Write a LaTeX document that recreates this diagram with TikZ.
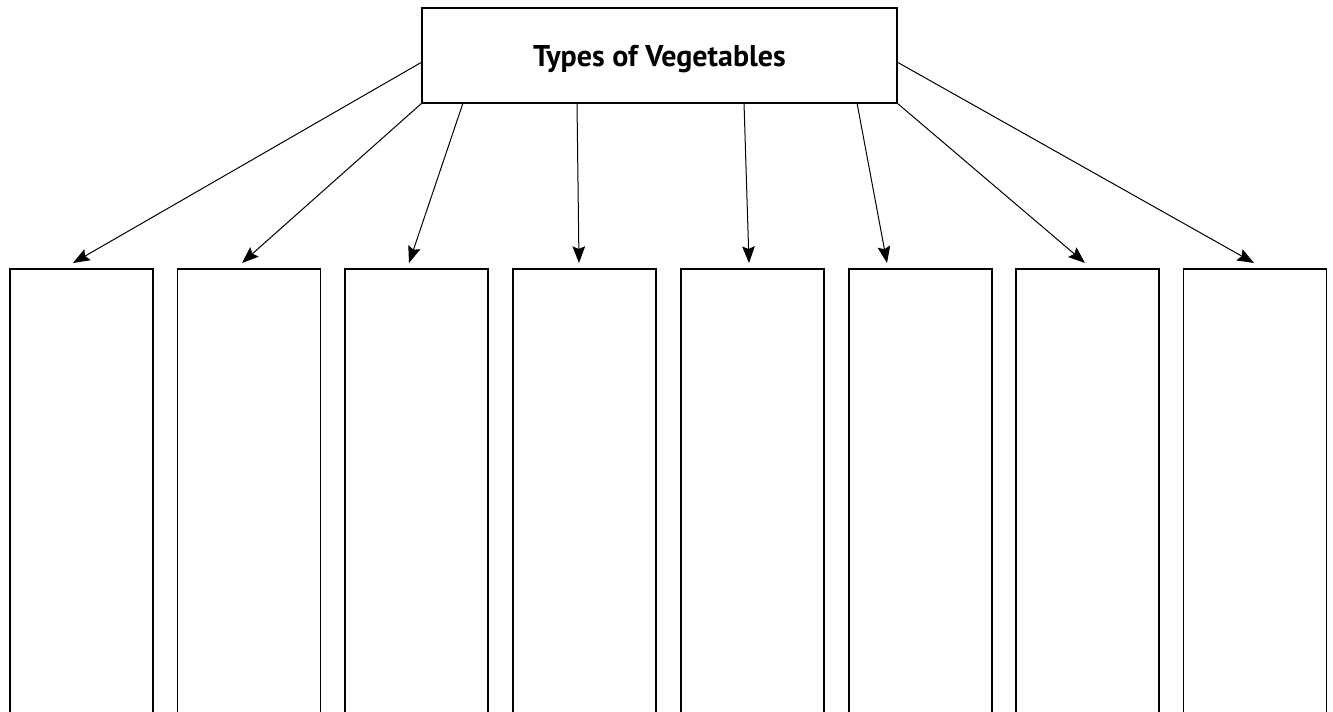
\documentclass[tikz,border=0pt]{standalone}
\usepackage{fontspec}
\setmainfont{PT Sans}
\usetikzlibrary{arrows.meta,calc}

\begin{document}
\begin{tikzpicture}[x = 0.75pt, y = -0.75pt,
    headbox/.style = {draw, line width = 1pt, inner sep = 0pt, outer sep = 0pt,
        minimum width = 356.25pt, minimum height = 71.25pt, text depth = 0pt,
        font = \bfseries\fontsize{22.5}{27}\selectfont},
    colbox/.style = {draw, line width = 1pt, inner sep = 0pt, outer sep = 0pt,
        minimum width = 107.25pt, minimum height = 345pt},
    arr/.style = {line width = 0.75pt, -{Stealth[length = 12.5pt, width = 9.5pt, inset = 2pt]}}]
    \useasboundingbox (0,0) rectangle (1333,712);
    \clip (0,0) rectangle (1333,712);
    
    \node [headbox] (veg) at (659.5,55.5) {Types of Vegetables};
    
    \node [colbox] (col1) at (81.5,499) {};
    \node [colbox] (col2) at (249,499) {};
    \node [colbox] (col3) at (416.5,499) {};
    \node [colbox] (col4) at (584.5,499) {};
    \node [colbox] (col5) at (752.5,499) {};
    \node [colbox] (col6) at (920.5,499) {};
    \node [colbox] (col7) at (1087.5,499) {};
    \node [colbox] (col8) at (1255,499) {};
    
    \draw [arr] ($(veg.west)+(0,6.5)$) -- ($(col1.north)+(-8.5,-6)$);
    \draw [arr] (veg.south west) -- ($(col2.north)+(-7,-6)$);
    \draw [arr] ($(veg.south west)+(41,0)$) -- ($(col3.north)+(-7.5,-6)$);
    \draw [arr] ($(veg.south west)+(155,0)$) -- ($(col4.north)+(-5.5,-6)$);
    \draw [arr] ($(veg.south west)+(322,0)$) -- ($(col5.north)+(-3.5,-6)$);
    \draw [arr] ($(veg.south west)+(435,0)$) -- ($(col6.north)+(-33.5,-6)$);
    \draw [arr] (veg.south east) -- ($(col7.north)+(-2.5,-6)$);
    \draw [arr] ($(veg.east)+(0,6.5)$) -- ($(col8.north)+(-1,-6)$);
\end{tikzpicture}
\end{document}
